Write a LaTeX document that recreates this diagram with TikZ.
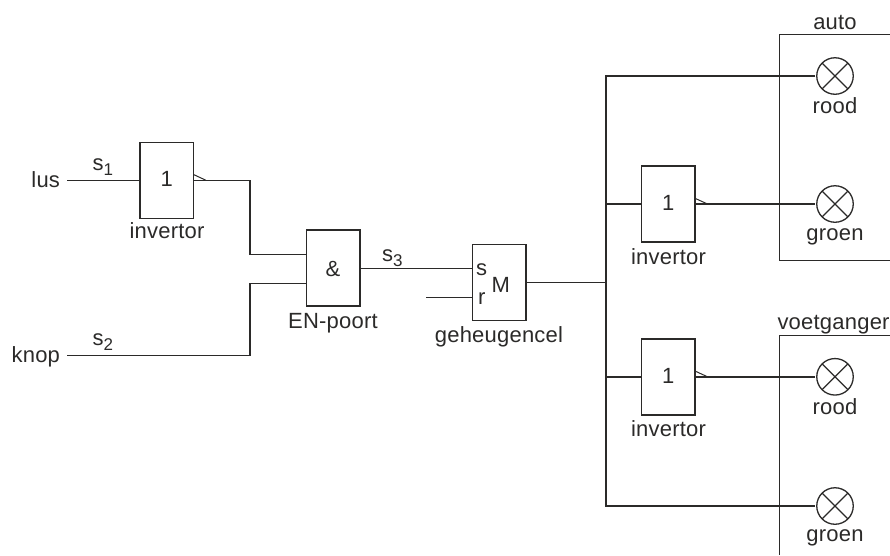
\documentclass[tikz,border=0pt]{standalone}
\usepackage{fontspec}
\setmainfont{Liberation Sans}[LetterSpace=1]
\definecolor{ink}{HTML}{2B2A29}
\newcommand{\subdigit}[1]{\raisebox{-5pt}{\fontsize{17}{19}\selectfont #1}}
\tikzset{
  wire/.style={draw=ink,line width=1.5pt,line join=miter},
  gatebox/.style={draw=ink,line width=1.5pt,rectangle,minimum width=53.5pt,minimum height=76pt,inner sep=0pt,outer sep=0pt},
  lamp/.style={draw=ink,line width=1.3pt,circle,minimum size=36.5pt,inner sep=0pt,outer sep=1.5pt,
    path picture={\draw[ink,line width=1.3pt]
      (path picture bounding box.north west)--(path picture bounding box.south east)
      (path picture bounding box.north east)--(path picture bounding box.south west);}},
  lbl/.style={text=ink,font=\fontsize{22}{25}\selectfont,inner sep=0pt,outer sep=0pt,anchor=base,yshift=-1.5pt},
  lblL/.style={lbl,anchor=base west},
  lblR/.style={lbl,anchor=base east},
}
\begin{document}
\begin{tikzpicture}[x=1pt,y=-1pt]
\useasboundingbox (0,0) rectangle (890,555);
% gates
\node[gatebox] (inv1) at (166.7,180.3) {};
\node[gatebox] (and) at (333,267.8) {};
\node[gatebox] (mem) at (499,282.5) {};
\node[gatebox] (inv2) at (668.3,204) {};
\node[gatebox] (inv3) at (668.3,376.8) {};
% lamps
\node[lamp] (l1) at (835,76) {};
\node[lamp] (l2) at (835,204) {};
\node[lamp] (l3) at (835,376.8) {};
\node[lamp] (l4) at (835,506) {};
% free wire ends
\coordinate (lusend) at (67,180.3);
\coordinate (knopend) at (67,355.7);
\coordinate (rend) at (426,297.3);
\coordinate (busT) at (606,76);
\coordinate (bus2) at (606,204);
\coordinate (busM) at (606,282.5);
\coordinate (bus3) at (606,376.8);
\coordinate (busB) at (606,506);
\coordinate (and1) at (306.2,254.3);
\coordinate (and2) at (306.2,283.3);
\coordinate (mems) at (472.2,268.3);
\coordinate (memr) at (472.2,297.3);
\coordinate (autoTR) at (890,34.7);
\coordinate (autoTL) at (779.7,34.7);
\coordinate (autoBL) at (779.7,260.3);
\coordinate (autoBR) at (890,260.3);
\coordinate (voetTR) at (890,335.7);
\coordinate (voetTL) at (779.7,335.7);
\coordinate (voetB) at (779.7,555);
% connectors
\draw[wire] (lusend) -- (inv1.west);
\draw[wire] (inv1.east) -| (250,254.3) -- (and1);
\draw[wire] (knopend) -| (250,283.3) -- (and2);
\draw[wire] (and.east |- mems) -- (mems);
\draw[wire] (rend) -- (memr);
\draw[wire] (mem.east) -- (busM);
\draw[wire] (l1.west) -- (busT) -- (busB) -- (l4.west);
\draw[wire] (bus2) -- (inv2.west);
\draw[wire] (inv2.east) -- (l2.west);
\draw[wire] (bus3) -- (inv3.west);
\draw[wire] (inv3.east) -- (l3.west);
% inverter wedges
\draw[wire,line width=1pt] (193.5,174.5) -- (206,180.3);
\draw[wire,line width=1pt] (695,198.3) -- (707.5,204);
\draw[wire,line width=1pt] (695,371) -- (707.5,376.8);
% frames
\draw[wire] (autoTR) -- (autoTL) -- (autoBL) -- (autoBR);
\draw[wire] (voetTR) -- (voetTL) -- (voetB);
% labels
\node[lblR] (tlus) at (60,185.7) {lus};
\node[lblR] (tknop) at (60,360.7) {knop};
\node[lblL] (ts1) at (92.7,169) {s\subdigit{1}};
\node[lblL] (ts2) at (92.7,344) {s\subdigit{2}};
\node[lblL] (ts3) at (382,260) {s\subdigit{3}};
\node[lbl] (tone1) at (166.7,185.2) {1};
\node[lbl] (tone2) at (668.3,208.7) {1};
\node[lbl] (tone3) at (668.3,381.7) {1};
\node[lbl] (tamp) at (333,275) {\&};
\node[lblL] (ts) at (476,274) {s};
\node[lblL] (tr) at (478,302.7) {r};
\node[lblL] (tm) at (491.7,290.7) {M};
\node[lbl] (tinv1) at (167,237.3) {invertor};
\node[lbl] (tinv2) at (668.5,263.3) {invertor};
\node[lbl] (tinv3) at (668.5,435) {invertor};
\node[lbl] (ten) at (333,326.7) {EN-poort};
\node[lbl] (tgeh) at (499,340.7) {geheugencel};
\node[lbl] (tauto) at (835,27.7) {auto};
\node[lbl] (trood1) at (835,111.7) {rood};
\node[lbl] (tgroen1) at (835,239) {groen};
\node[lblL] (tvoet) at (777.5,328) {voetganger};
\node[lbl] (trood2) at (835,412.7) {rood};
\node[lbl] (tgroen2) at (835,540) {groen};
\end{tikzpicture}
\end{document}
